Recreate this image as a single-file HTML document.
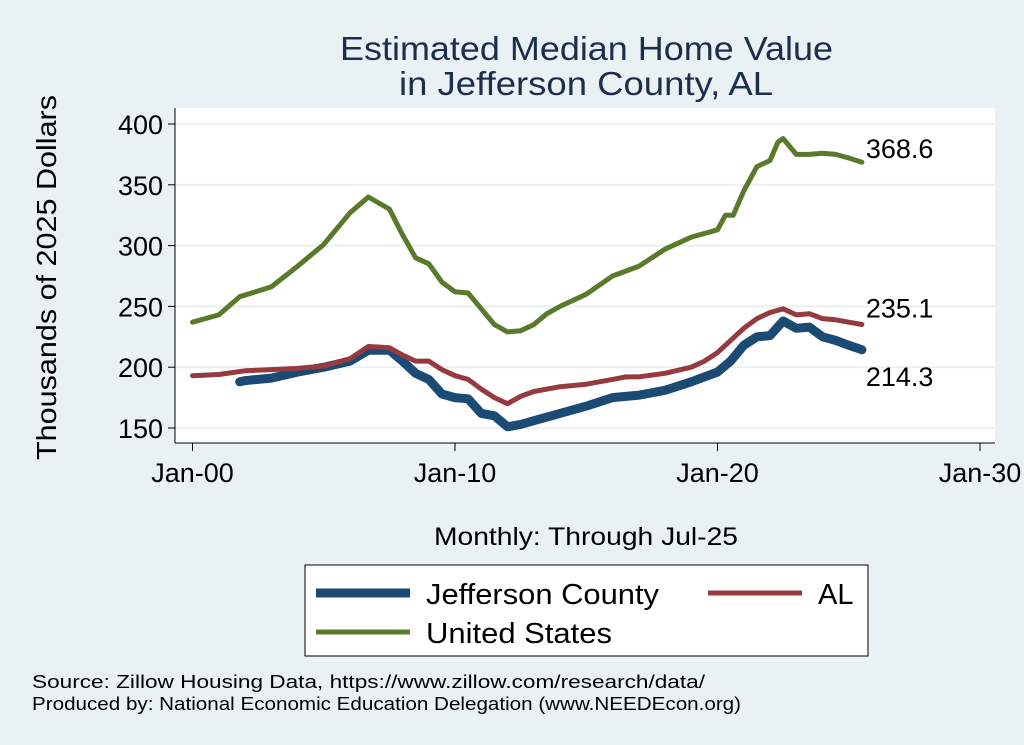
<!DOCTYPE html>
<html><head><meta charset="utf-8"><style>
body{margin:0;background:#eaf1f4;}
svg{display:block;font-family:"Liberation Sans",sans-serif;}
</style></head><body>
<svg id="chart" width="1024" height="745">
<rect x="0" y="0" width="1024" height="745" fill="#eaf1f4"/>
<text x="340" y="60" font-size="33" textLength="493" lengthAdjust="spacingAndGlyphs" fill="#1c2e4c">Estimated Median Home Value</text>
<text x="399" y="95" font-size="33" textLength="374" lengthAdjust="spacingAndGlyphs" fill="#1c2e4c">in Jefferson County, AL</text>
<rect x="175" y="108" width="820" height="335" fill="#ffffff"/>
<g id="grid"></g><g id="axes"></g><g id="series"></g>
<text transform="translate(56,460) rotate(-90)" font-size="28" textLength="365" lengthAdjust="spacingAndGlyphs" fill="#000">Thousands of 2025 Dollars</text>
<text x="434" y="545" font-size="25" textLength="304" lengthAdjust="spacingAndGlyphs" fill="#000">Monthly: Through Jul-25</text>
<g>
<rect x="305" y="565" width="563" height="91" fill="#fff" stroke="#000" stroke-width="1"/>
<line x1="316" y1="593" x2="410" y2="593" stroke="#1b4a74" stroke-width="9"/>
<text x="426" y="604" font-size="29" textLength="233" lengthAdjust="spacingAndGlyphs">Jefferson County</text>
<line x1="708" y1="593" x2="802" y2="593" stroke="#963a3f" stroke-width="5"/>
<text x="818" y="604" font-size="29">AL</text>
<line x1="316" y1="632" x2="410" y2="632" stroke="#587a2a" stroke-width="5"/>
<text x="426" y="643" font-size="29" textLength="186" lengthAdjust="spacingAndGlyphs">United States</text>
</g>
<text x="32" y="688" font-size="18" textLength="673" lengthAdjust="spacingAndGlyphs">Source: Zillow Housing Data, https://www.zillow.com/research/data/</text>
<text x="32" y="710" font-size="18" textLength="709" lengthAdjust="spacingAndGlyphs">Produced by: National Economic Education Delegation (www.NEEDEcon.org)</text>
</svg>
<script>
const yTicks=[150,200,250,300,350,400];
const xTickYears=[2000,2010,2020,2030];
const xTickLabels=["Jan-00","Jan-10","Jan-20","Jan-30"];
const usYears=[2000,2001,2001.8,2003,2004,2005,2006,2006.7,2007.5,2008,2008.5,2009,2009.5,2010,2010.5,2011,2011.5,2012,2012.5,2013,2013.5,2014,2015,2016,2017,2018,2019,2020,2020.3,2020.6,2021,2021.5,2022,2022.3,2022.5,2023,2023.5,2024,2024.5,2025,2025.5];
const usValues=[237,243,258,266,283,301,327,340,330,309,290,285,270,262,261,248,235,229,230,235,244,250,260,275,283,297,307,313,325,325,345,365,370,385,388,375,375,376,375,372,368.6];
const alYears=[2000,2001,2002,2003,2004,2005,2006,2006.7,2007.5,2008,2008.5,2009,2009.5,2010,2010.5,2011,2011.5,2012,2012.5,2013,2014,2015,2016,2016.5,2017,2018,2019,2019.5,2020,2020.5,2021,2021.5,2022,2022.5,2023,2023.5,2024,2024.5,2025,2025.5];
const alValues=[193,194,197,198,199,201,207,217,216,210,205,205,198,193,190,182,175,170,176,180,184,186,190,192,192,195,200,205,212,222,232,240,245,248,243,244,240,239,237,235.1];
const jcYears=[2001.8,2002,2003,2004,2005,2006,2006.7,2007.5,2008,2008.5,2009,2009.5,2010,2010.5,2011,2011.5,2012,2012.5,2013,2014,2015,2016,2017,2018,2019,2019.5,2020,2020.5,2021,2021.5,2022,2022.5,2023,2023.5,2024,2024.5,2025,2025.5];
const jcValues=[188,189,191,196,200,205,214,214,205,195,190,178,175,174,162,160,151,153,156,162,168,175,177,181,188,192,196,205,218,225,226,238,232,233,225,222,218,214.3];
const NS="http://www.w3.org/2000/svg";
const xS=y=>192.5+(y-2000)*26.25;
const yS=v=>428-(v-150)*1.216;
function mk(tag,attrs,parent){const e=document.createElementNS(NS,tag);for(const k in attrs)e.setAttribute(k,attrs[k]);document.getElementById(parent).appendChild(e);return e;}
yTicks.forEach(t=>{
 const g=mk('line',{x1:175,x2:995,y1:yS(t),y2:yS(t),stroke:'#eaf1f4','stroke-width':2},'grid');
 
 
 const tk=mk('line',{x1:168,x2:175,y1:yS(t),y2:yS(t),stroke:'#000'},'axes');
 
 
 const tx=mk('text',{x:163,y:yS(t)+10,'text-anchor':'end','font-size':27},'axes');
 tx.textContent=t;
 
 
});
const ya=mk('line',{x1:175,x2:175,y1:108,y2:443,stroke:'#000'},'axes');


const xa=mk('line',{x1:175,x2:995,y1:443,y2:443,stroke:'#000'},'axes');


xTickYears.forEach((yr,i)=>{
 const tk=mk('line',{x1:xS(yr),x2:xS(yr),y1:443,y2:451,stroke:'#000'},'axes');
 
 
 const tx=mk('text',{x:xS(yr),y:482,'text-anchor':'middle','font-size':27},'axes');
 tx.textContent=xTickLabels[i];
 
 
});
function line(xs,vs,color,w,name){
 const d=xs.map((x,i)=>(i?'L':'M')+xS(x).toFixed(1)+','+yS(vs[i]).toFixed(1)).join(' ');
 const p=mk('path',{d:d,fill:'none',stroke:color,'stroke-width':w,'stroke-linejoin':'round','stroke-linecap':'round'},'series');
 
 
}
line(usYears,usValues,'#587a2a',5,'us-line');
line(jcYears,jcValues,'#1b4a74',9,'jefferson-line');
line(alYears,alValues,'#963a3f',5,'al-line');
function lab(xs,vs,dy,name){
 const t=mk('text',{x:xS(xs[xs.length-1])+4,y:yS(vs[vs.length-1])+dy,'font-size':27},'series');
 t.textContent=vs[vs.length-1].toFixed(1);
 
 
}
lab(usYears,usValues,-4,'us-end-label');
lab(alYears,alValues,-7,'al-end-label');
lab(jcYears,jcValues,36,'jefferson-end-label');
</script>
</body></html>
